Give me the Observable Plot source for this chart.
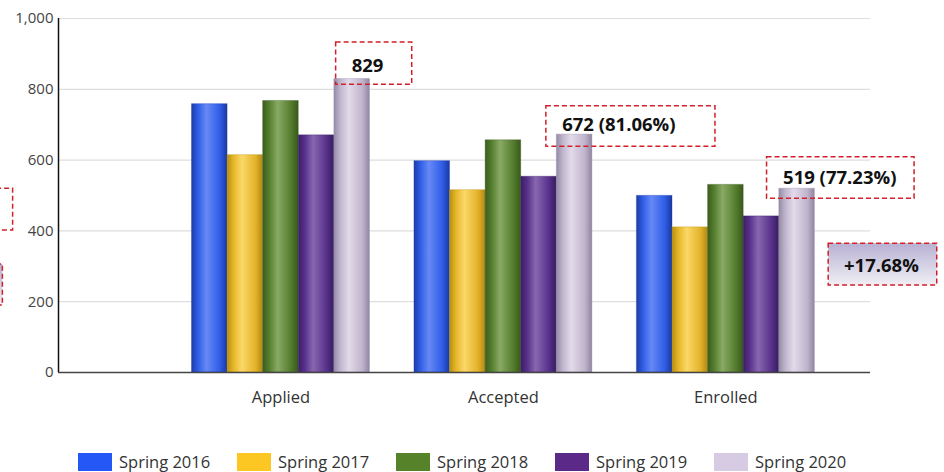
<!DOCTYPE html>
<html><head><meta charset="utf-8">
<script src="https://cdn.jsdelivr.net/npm/d3@7"></script>
<script src="https://cdn.jsdelivr.net/npm/@observablehq/plot@0.6"></script>
<style>
body{margin:0;background:#fff;font-family:"Open Sans",sans-serif;}
#chart svg{display:block;overflow:visible;}
#legend{display:flex;padding-left:78px;margin-top:32px;height:20px;}
.item{display:flex;align-items:center;width:159px;font-size:16.5px;line-height:18px;color:#333;white-space:nowrap;}
.sw{width:34px;height:18px;margin-right:7px;box-sizing:border-box;flex:none;}
</style></head><body><div id="chart"></div><div id="legend"></div>
<script>
// ---- data ----
const categories = ["Applied", "Accepted", "Enrolled"];
const seriesNames = ["Spring 2016", "Spring 2017", "Spring 2018", "Spring 2019", "Spring 2020"];
const spring2016 = [758, 597, 499];
const spring2017 = [614, 515, 410];
const spring2018 = [767, 656, 530];
const spring2019 = [670, 553, 441];
const spring2020 = [829, 672, 519];
const yTicks = [0, 200, 400, 600, 800, 1000];
const annotationLabels = ["829", "672 (81.06%)", "519 (77.23%)", "+17.68%"];

// ---- style / layout ----
const seriesValues = [spring2016, spring2017, spring2018, spring2019, spring2020];
const legendColors = ["#2457F5", "#FDC723", "#568229", "#5B2A89", "#D6CBE2"];
const gradStops = [
  ["#1c3ca8", "#2f5de6", "#6689f6", "#2f5de6", "#1a389e"],
  ["#b88f14", "#e6b628", "#fbd867", "#e3b22a", "#b08912"],
  ["#3b5d1e", "#547d2d", "#89aa65", "#537b2c", "#38591c"],
  ["#3a1f62", "#57308a", "#8967b0", "#56308a", "#371d5e"],
  ["#958aa6", "#c0b5cd", "#e2dbea", "#bfb4cc", "#9086a2"]
];
const groupWidth = 0.8;
const barW = groupWidth / seriesNames.length;

const bars = [];
seriesValues.forEach((vals, s) => vals.forEach((v, c) => {
  const x1 = c - groupWidth / 2 + s * barW;
  bars.push({s, c, x1, x2: x1 + barW, y: v});
}));

// annotation placement (data units)
const annoBoxes = [
  {x1: 0.248, x2: 0.590, y1: 813, y2: 932, fill: "none"},
  {x1: 1.193, x2: 1.953, y1: 638, y2: 752, fill: "none"},
  {x1: 2.185, x2: 2.848, y1: 491, y2: 608, fill: "none"},
  {x1: 2.462, x2: 2.950, y1: 246, y2: 364, fill: "url(#lav)"},
  {x1: -1.53, x2: -1.204, y1: 401, y2: 519, fill: "none"},
  {x1: -1.53, x2: -1.250, y1: 189, y2: 305, fill: "url(#lav)"}
];
const annoText = [
  {x: 0.389, y: 866, anchor: "middle"},
  {x: 1.264, y: 698, anchor: "start"},
  {x: 2.257, y: 548, anchor: "start"},
  {x: 2.699, y: 302, anchor: "middle"}
].map((d, i) => ({...d, label: annotationLabels[i]}));

const marks = [
  Plot.ruleY(yTicks.filter(t => t > 0), {stroke: "#dedede", strokeWidth: 1.2}),
  ...seriesNames.map((name, s) => Plot.rectY(bars.filter(d => d.s === s), {
    x1: "x1", x2: "x2", y: "y", fill: `url(#g${s})`,
    stroke: gradStops[s][0], strokeOpacity: 0.35, strokeWidth: 1
  })),
  Plot.ruleY([0], {stroke: "#444", strokeWidth: 1.5}),
  Plot.ruleX([-1], {stroke: "#111", strokeWidth: 1.5}),
  Plot.axisY(yTicks, {tickSize: 0, tickPadding: 5, tickFormat: d3.format(","), fontSize: 15, fill: "#444"}),
  Plot.text(categories, {x: (d, i) => i, frameAnchor: "bottom", dy: 30, fill: "#333", fontSize: 16.5}),
  Plot.rect(annoBoxes, {x1: "x1", x2: "x2", y1: "y1", y2: "y2", fill: d => d.fill,
    stroke: "#d0202a", strokeWidth: 1.5, strokeDasharray: "5,3"}),
  ...["middle", "start"].map(a => Plot.text(annoText.filter(d => d.anchor === a), {
    x: "x", y: "y", text: "label", textAnchor: a, fontSize: 18.5, fontWeight: "bold", fill: "#111"
  }))
];

const plot = Plot.plot({
  width: 944, height: 420,
  marginLeft: 58, marginRight: 74, marginTop: 18, marginBottom: 48,
  x: {type: "linear", domain: [-1, 2.65], axis: null},
  y: {domain: [0, 1000], axis: null},
  color: {type: "identity"},
  style: {fontFamily: "'Open Sans', sans-serif", color: "#444", background: "white"},
  marks
});

// gradients
const svg = d3.select(plot);
const defs = svg.insert("defs", ":first-child");
gradStops.forEach((stops, s) => {
  const g = defs.append("linearGradient").attr("id", `g${s}`).attr("x1", 0).attr("x2", 1).attr("y1", 0).attr("y2", 0);
  [0, 0.18, 0.42, 0.8, 1].forEach((o, k) => g.append("stop").attr("offset", o).attr("stop-color", stops[k]));
});
const lav = defs.append("linearGradient").attr("id", "lav").attr("x1", 0).attr("x2", 0).attr("y1", 0).attr("y2", 1);
lav.append("stop").attr("offset", 0).attr("stop-color", "#b7b0d2");
lav.append("stop").attr("offset", 1).attr("stop-color", "#f0eff5");

document.getElementById("chart").appendChild(plot);

// legend
const legend = d3.select("#legend");
seriesNames.forEach((name, s) => {
  const it = legend.append("div").attr("class", "item");
  it.append("div").attr("class", "sw").style("background", legendColors[s]);
  it.append("span").text(name);
});
</script>
</body></html>
